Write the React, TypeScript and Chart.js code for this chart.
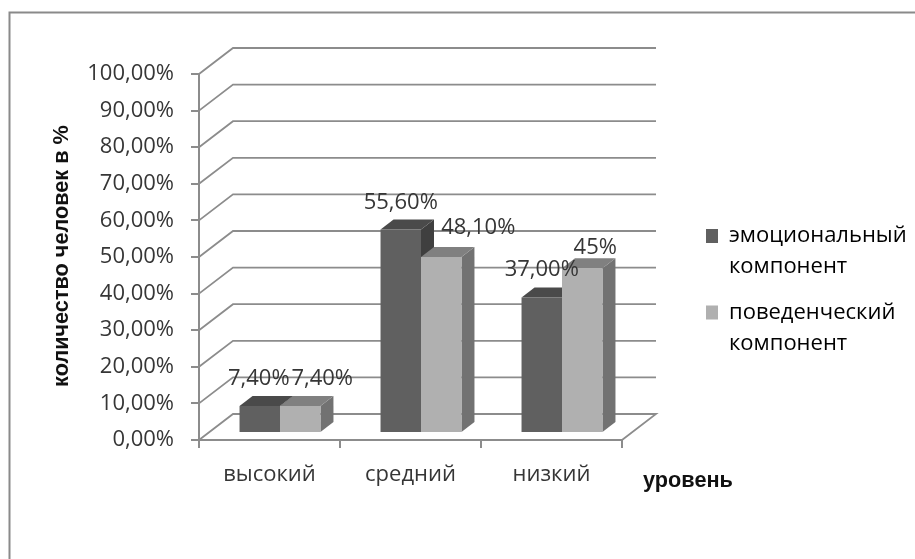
import React, { useEffect, useRef } from "react";
import { Chart, registerables } from "chart.js";

Chart.register(...registerables);

const categories = ["высокий", "средний", "низкий"];
const seriesNames = [["эмоциональный", "компонент"], ["поведенческий", "компонент"]];
const emotional = [7.4, 55.6, 37.0];
const behavioural = [7.4, 48.1, 45.0];
const emotionalLabels = ["7,40%", "55,60%", "37,00%"];
const behaviouralLabels = ["7,40%", "48,10%", "45%"];
const yTickLabels = ["0,00%", "10,00%", "20,00%", "30,00%", "40,00%", "50,00%", "60,00%", "70,00%", "80,00%", "90,00%", "100,00%"];
const yTitle = "количество человек в %";
const xTitle = "уровень";

const labelFont = "'Open Sans', sans-serif";
const titleFont = "'Liberation Sans', sans-serif";
const textColor = "#363636";
const lineColor = "#8c8c8c";

// depth of the 3D box: wall offset and bar offset, in pixels
const wall = { dx: 34, dy: -26 };
const barShift = { dx: 10.5, dy: -7 };
const barDepth = { dx: 13, dy: -10 };
const faces = [
  { top: "#4a4a4a", side: "#3f3f3f" },
  { top: "#808080", side: "#727272" },
];
// hand-placed data label offsets, from the bar's front-top-centre
const labelOffsets = [
  [[-1, -27], [0, -27], [0, -28]],
  [[22, -27], [37, -29], [13, -21]],
];

const box3d = {
  id: "box3d",
  afterLayout(chart: any) {
    const l = chart.legend;
    const w = l.width;
    l.left = 691;
    l.right = 691 + w + 10;
    l.top = 210;
    l.bottom = 420;
  },
  beforeDatasetsDraw(chart: any) {
    const { ctx, scales } = chart;
    const { x: xs, y: ys } = scales;
    ctx.save();
    // outer frame
    ctx.strokeStyle = "#8a8a8a";
    ctx.lineWidth = 2;
    ctx.beginPath();
    ctx.moveTo(9.5, 559);
    ctx.lineTo(9.5, 12.5);
    ctx.lineTo(915, 12.5);
    ctx.stroke();
    // walls
    ctx.strokeStyle = lineColor;
    ctx.lineWidth = 1.8;
    ys.ticks.forEach((t: any) => {
      const y = ys.getPixelForValue(t.value);
      ctx.beginPath();
      ctx.moveTo(xs.left, y);
      ctx.lineTo(xs.left + wall.dx, y + wall.dy);
      ctx.lineTo(xs.right + wall.dx, y + wall.dy);
      if (t.value === 0) ctx.lineTo(xs.right, y);
      ctx.stroke();
    });
    ctx.restore();
  },
  beforeDatasetDraw(chart: any, args: any) {
    const { ctx } = chart;
    ctx.save();
    ctx.translate(barShift.dx, barShift.dy);
    // Datasets paint last-to-first, so all side and top faces go in before the
    // light fronts; the dark fronts then paint last over their own rectangles.
    if (args.index !== 1) return;
    [0, 1].forEach((d) => {
      const face = faces[d];
      chart.getDatasetMeta(d).data.forEach((el: any) => {
        const { x, y, base, width } = el.getProps(["x", "y", "base", "width"], true);
        const l = x - width / 2;
        const r = x + width / 2;
        ctx.fillStyle = face.side;
        ctx.beginPath();
        ctx.moveTo(r, y);
        ctx.lineTo(r + barDepth.dx, y + barDepth.dy);
        ctx.lineTo(r + barDepth.dx, base + barDepth.dy);
        ctx.lineTo(r, base);
        ctx.closePath();
        ctx.fill();
        ctx.fillStyle = face.top;
        ctx.beginPath();
        ctx.moveTo(l, y);
        ctx.lineTo(l + barDepth.dx, y + barDepth.dy);
        ctx.lineTo(r + barDepth.dx, y + barDepth.dy);
        ctx.lineTo(r, y);
        ctx.closePath();
        ctx.fill();
      });
    });
  },
  afterDatasetDraw(chart: any) {
    chart.ctx.restore();
  },
  afterDatasetsDraw(chart: any) {
    const { ctx, scales } = chart;
    ctx.save();
    ctx.fillStyle = textColor;
    ctx.font = `22px ${labelFont}`;
    ctx.textAlign = "center";
    ctx.textBaseline = "middle";
    [emotionalLabels, behaviouralLabels].forEach((texts, d) => {
      const meta = chart.getDatasetMeta(d);
      meta.data.forEach((el: any, i: number) => {
        const [ox, oy] = labelOffsets[d][i];
        ctx.fillText(texts[i], el.x + barShift.dx + ox, el.y + barShift.dy + oy);
      });
    });
    // axis titles
    ctx.fillStyle = "#111111";
    ctx.font = `bold 21.7px ${titleFont}`;
    ctx.fillText(scales.x.options.title.text, 688, 481);
    ctx.translate(62, 256);
    ctx.rotate(-Math.PI / 2);
    ctx.fillText(scales.y.options.title.text, 0, 0);
    ctx.restore();
  },
};

export default function App() {
  const ref = useRef<HTMLCanvasElement>(null);
  useEffect(() => {
    const chart = new Chart(ref.current!, {
      type: "bar",
      data: {
        labels: categories,
        datasets: [
          { label: seriesNames[0].join(" "), data: emotional, backgroundColor: "#606060", clip: false as any },
          { label: seriesNames[1].join(" "), data: behavioural, backgroundColor: "#b0b0b0", clip: false as any },
        ],
      },
      plugins: [box3d],
      options: {
        responsive: false,
        animation: false,
        layout: { padding: { left: 0, top: 74, right: 293, bottom: 0 } },
        datasets: { bar: { categoryPercentage: 0.574, barPercentage: 1 } },
        scales: {
          x: {
            afterFit: (s: any) => { s.height = 119; },
            title: { display: false, text: xTitle },
            border: { color: lineColor, width: 2 },
            grid: { drawOnChartArea: false, offset: true, color: lineColor, lineWidth: 2, tickLength: 8 },
            ticks: { color: textColor, padding: 14, font: { family: labelFont, size: 22 } },
          },
          y: {
            min: 0,
            max: 100,
            afterFit: (s: any) => { s.width = 199; },
            title: { display: false, text: yTitle },
            border: { color: lineColor, width: 2 },
            grid: { drawOnChartArea: false, color: lineColor, lineWidth: 2, tickLength: 8 },
            ticks: {
              stepSize: 10,
              autoSkip: false,
              color: textColor,
              padding: 17,
              font: { family: labelFont, size: 22 },
              callback: (_v: any, i: number) => yTickLabels[i],
            },
          },
        },
        plugins: {
          title: { display: false },
          tooltip: { enabled: false },
          legend: {
            display: true,
            position: "chartArea" as any,
            align: "start",
            labels: {
              boxWidth: 12,
              boxHeight: 14,
              padding: 15,
              color: textColor,
              font: { family: labelFont, size: 22, lineHeight: 1.4 },
              generateLabels: () =>
                seriesNames.map((text, i) => ({
                  text: text as any,
                  fillStyle: i === 0 ? "#606060" : "#b0b0b0",
                  strokeStyle: "transparent",
                  lineWidth: 0,
                  datasetIndex: i,
                  hidden: false,
                })),
            },
          },
        },
      },
    });
    return () => chart.destroy();
  }, []);
  return (
    <div style={{ position: "fixed", left: 0, top: 0, width: 915, height: 559, background: "#fff", overflow: "hidden" }}>
      <canvas ref={ref} width={915} height={559} style={{ display: "block", width: 915, height: 559, filter: "blur(0.45px)" }} />
    </div>
  );
}
